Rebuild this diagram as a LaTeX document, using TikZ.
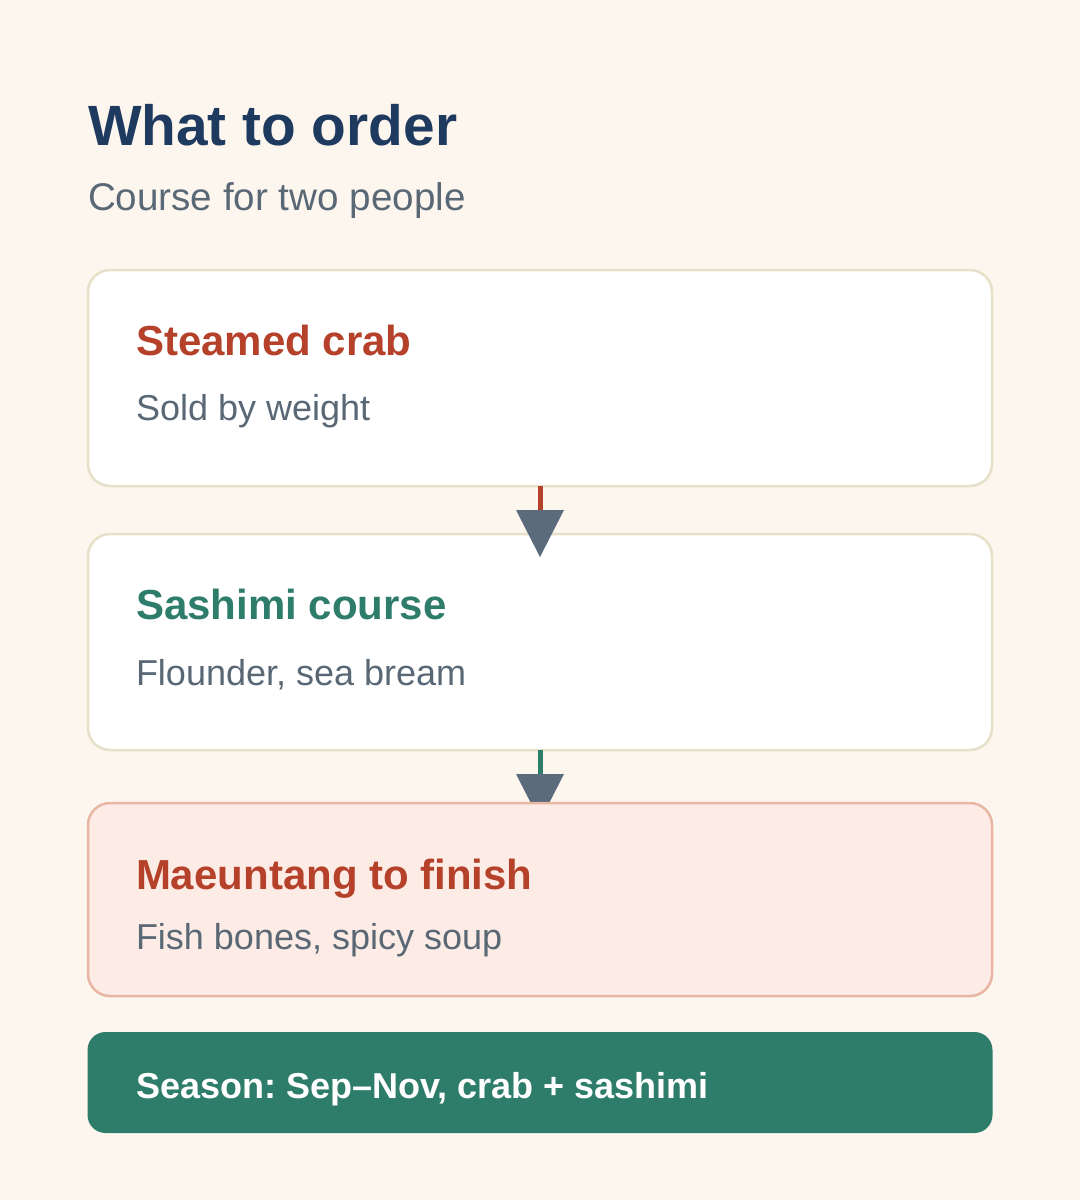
\documentclass[tikz,border=0pt]{standalone}
\usepackage{fontspec}
\setmainfont{Liberation Sans}
\frenchspacing
\definecolor{bgc}{HTML}{FCF6EF}
\definecolor{navy}{HTML}{1F3A5F}
\definecolor{graytxt}{HTML}{5A6876}
\definecolor{redc}{HTML}{B5412A}
\definecolor{greenc}{HTML}{2E7D6B}
\definecolor{beigeb}{HTML}{E6E0C9}
\definecolor{pinkf}{HTML}{FDECE5}
\definecolor{pinkb}{HTML}{E9B6A3}
\definecolor{arrowc}{HTML}{5B6B7B}
\tikzset{
  card/.style={draw=beigeb, fill=white, line width=2.5pt, rounded corners=22pt, minimum width=904pt, inner sep=0pt, outer sep=0pt},
  pinkcard/.style={card, draw=pinkb, fill=pinkf},
  greencard/.style={fill=greenc, rounded corners=18pt, minimum width=905pt, inner sep=0pt, outer sep=0pt},
  txt/.style={anchor=base west, inner sep=0pt, outer sep=0pt},
  headtxt/.style={txt, font=\fontsize{42}{48}\selectfont\bfseries},
  subtxt/.style={txt, text=graytxt, font=\fontsize{36}{42}\selectfont},
  stem/.style={line width=5pt},
  headfill/.style={fill=arrowc}
}
\begin{document}
\begin{tikzpicture}[x=1pt,y=-1pt]
\fill[bgc] (0,0) rectangle (1080,1200);
\useasboundingbox (0,0) rectangle (1080,1200);
% title
\node[txt, text=navy, font=\fontsize{56.8}{60}\selectfont\bfseries] (title) at (88,145) {What to order};
\node[txt, text=graytxt, font=\fontsize{38.6}{42}\selectfont] (subtitle) at (88,210) {Course for two people};
% cards
\node[card, minimum height=216pt] (b1) at (540,378) {};
\node[card, minimum height=216pt] (b2) at (540,642) {};
% arrows
\coordinate (a1) at (540,511);
\coordinate (a1l) at (516,510);
\coordinate (a1r) at (564,510);
\coordinate (a1t) at (540,557);
\draw[stem, redc] (b1.south) -- (a1);
\fill[headfill] (a1l) -- (a1r) -- (a1t) -- cycle;
\coordinate (a2) at (540,775);
\coordinate (a2l) at (516,774);
\coordinate (a2r) at (564,774);
\coordinate (a2t) at (540,821);
\draw[stem, greenc] (b2.south) -- (a2);
\fill[headfill] (a2l) -- (a2r) -- (a2t) -- cycle;
\node[pinkcard, minimum height=193pt] (b3) at (540,899.5) {};
\node[greencard, minimum height=101pt] (b4) at (540,1082.5) {};
% texts
\node[headtxt, text=redc] (h1) at (136,355) {Steamed crab};
\node[subtxt] (s1) at (136,420) {Sold by weight};
\node[headtxt, text=greenc] (h2) at (136,619) {Sashimi course};
\node[subtxt] (s2) at (136,685) {Flounder, sea bream};
\node[headtxt, text=redc] (h3) at (136,889) {Maeuntang to finish};
\node[subtxt] (s3) at (136,949) {Fish bones, spicy soup};
\node[txt, text=white, font=\fontsize{36}{42}\selectfont\bfseries] (h4) at (136,1098) {Season: Sep–Nov, crab + sashimi};
\end{tikzpicture}
\end{document}
